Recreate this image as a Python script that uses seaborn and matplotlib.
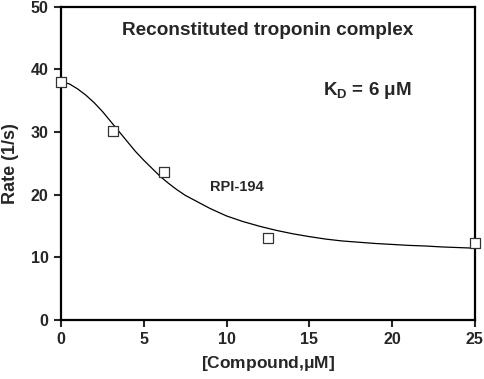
import numpy as np
import pandas as pd
import matplotlib
matplotlib.use('Agg')
import matplotlib.pyplot as plt
import seaborn as sns

# measured points
conc = [0, 3.125, 6.25, 12.5, 25]
rate = [38.0, 30.2, 23.6, 13.0, 12.2]

# fitted curve
fit_x = [0, 0.5, 1, 1.5, 2, 2.5, 3, 3.5, 4, 4.5, 5, 5.5, 6, 6.5, 7, 7.5, 8, 8.5,
         9, 9.5, 10, 11, 12, 13, 14, 15, 16, 17, 18, 19, 20, 21, 22, 23, 24, 25]
fit_y = [38.0, 37.7, 36.9, 35.9, 34.7, 33.3, 31.7, 30.1, 28.5, 26.9, 25.5, 24.2,
         22.9, 21.8, 20.8, 19.9, 19.2, 18.5, 17.8, 17.2, 16.6, 15.7, 14.95, 14.3,
         13.75, 13.3, 12.9, 12.6, 12.4, 12.2, 12.05, 11.9, 11.8, 11.65, 11.55, 11.45]

xticks = [0, 5, 10, 15, 20, 25]
yticks = [0, 10, 20, 30, 40, 50]

sns.set_style('ticks')
plt.rcParams['font.family'] = ['Liberation Sans', 'DejaVu Sans']
plt.rcParams['font.weight'] = 'bold'

fig = plt.figure(figsize=(4.84, 3.79), dpi=100)
ax = fig.add_axes([0.126, 0.156, 0.855, 0.826])

pts = pd.DataFrame({'x': conc, 'y': rate})
curve = pd.DataFrame({'x': fit_x, 'y': fit_y})

sns.lineplot(data=curve, x='x', y='y', ax=ax, color='black', linewidth=0.9, zorder=2)
sns.scatterplot(data=pts, x='x', y='y', ax=ax, marker='s', s=42, facecolor='white',
                edgecolor='#333333', linewidth=0.9, zorder=3, clip_on=False)

ax.set_xlim(0, 25)
ax.set_ylim(0, 50)
ax.set_xticks(xticks)
ax.set_yticks(yticks)
ax.tick_params(axis='both', direction='out', length=5, width=1.5, labelsize=11.5,
               top=False, right=False, pad=4)
for lab in ax.get_xticklabels() + ax.get_yticklabels():
    lab.set_fontweight('bold')
for sp in ax.spines.values():
    sp.set_linewidth(1.6)
    sp.set_color('black')

ax.set_xlabel('[Compound,$\\mathregular{\\mu}$M]', fontsize=12.5, fontweight='bold', labelpad=5)
ax.set_ylabel('Rate (1/s)', fontsize=13, fontweight='bold', labelpad=8)

ax.text(12.5, 46.2, 'Reconstituted troponin complex', ha='center', va='center',
        fontsize=13.7, fontweight='bold')
ax.text(18.5, 36.6, 'K$_\\mathregular{D}$ = 6 μM', ha='center', va='center',
        fontsize=13.5, fontweight='bold')
ax.text(9.0, 21.3, 'RPI-194', ha='left', va='center', fontsize=10.5, fontweight='bold')

fig.savefig('out.png', dpi=100)
